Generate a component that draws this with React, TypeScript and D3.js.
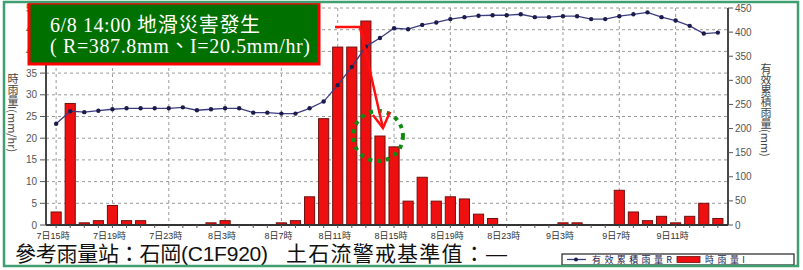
import React, { useEffect, useRef } from 'react';
import * as d3 from 'd3';

// hourly categories, 7日15時 .. 9日14時
const hours = [
  '7日15時', '7日16時', '7日17時', '7日18時', '7日19時', '7日20時', '7日21時', '7日22時', '7日23時',
  '8日0時', '8日1時', '8日2時', '8日3時', '8日4時', '8日5時', '8日6時', '8日7時', '8日8時',
  '8日9時', '8日10時', '8日11時', '8日12時', '8日13時', '8日14時', '8日15時', '8日16時', '8日17時',
  '8日18時', '8日19時', '8日20時', '8日21時', '8日22時', '8日23時',
  '9日0時', '9日1時', '9日2時', '9日3時', '9日4時', '9日5時', '9日6時', '9日7時', '9日8時',
  '9日9時', '9日10時', '9日11時', '9日12時', '9日13時', '9日14時',
];

const tickLabels = [
  '7日15時', '7日19時', '7日23時', '8日3時', '8日7時', '8日11時',
  '8日15時', '8日19時', '8日23時', '9日3時', '9日7時', '9日11時',
];

// 時雨量 I (mm/hr)
const hourlyRain = [
  3, 28, 0.5, 1, 4.5, 1, 1, 0, 0, 0, 0, 0.5,
  1, 0, 0, 0, 0.5, 1, 6.5, 24.5, 41, 41, 47, 20.5,
  18, 5.5, 11, 5.5, 6.5, 6, 2.5, 1.5, 0, 0, 0, 0,
  0.5, 0.5, 0, 0, 8, 3, 1, 2, 0.5, 2, 5, 1.5,
];

// 有效累積雨量 R (mm)
const effectiveRain = [
  210, 236, 234, 237, 240, 242, 242, 242, 242, 244, 238, 240,
  242, 242, 233, 233, 231, 231, 242, 256, 290, 328, 370, 387.8,
  408, 406, 415, 420, 427, 431, 434, 435, 435, 437, 431, 431,
  433, 433, 427, 427, 433, 437, 441, 431, 424, 413, 397, 399,
];

const leftTicks = [0, 5, 10, 15, 20, 25, 30, 35, 40, 45, 50];
const rightTicks = [0, 50, 100, 150, 200, 250, 300, 350, 400, 450];

const eventIndex = 23; // 8日14時

const sansFont = "'Liberation Sans', 'Noto Sans CJK TC', sans-serif";
const cjkFont = "'Noto Sans CJK TC', sans-serif";
const serifFont = "'Liberation Serif', 'Noto Sans CJK TC', serif";

const App = () => {
  const svgRef = useRef(null);

  useEffect(() => {
    const svg = d3.select(svgRef.current);
    svg.selectAll('*').remove();

    const W = 803;
    const H = 270;
    const left = 46, right = 728, top = 8, bottom = 225;

    svg.attr('width', W).attr('height', H);
    svg.append('rect').attr('width', W).attr('height', H).attr('fill', '#fff');

    const x = d3.scaleBand()
      .domain(hours)
      .range([left, right])
      .paddingInner(0.28)
      .paddingOuter(0.36);
    const bw = x.bandwidth();
    const cx = (h) => x(h) + bw / 2;

    const yL = d3.scaleLinear().domain([0, 50]).range([bottom, top]);
    const yR = d3.scaleLinear().domain([0, 450]).range([bottom, top]);

    // grid
    const grid = svg.append('g')
      .attr('stroke', '#9a9a9a')
      .attr('stroke-dasharray', '3,3')
      .attr('stroke-width', 1);
    leftTicks.filter(d => d > 0).forEach(d => {
      grid.append('line')
        .attr('x1', left).attr('x2', right)
        .attr('y1', yL(d)).attr('y2', yL(d));
    });
    tickLabels.forEach(t => {
      grid.append('line')
        .attr('x1', cx(t)).attr('x2', cx(t))
        .attr('y1', top).attr('y2', bottom);
    });

    // bars
    svg.append('g')
      .selectAll('rect')
      .data(hours.map((h, i) => ({ h, v: hourlyRain[i] })).filter(d => d.v > 0))
      .enter().append('rect')
      .attr('x', d => x(d.h))
      .attr('y', d => yL(d.v))
      .attr('width', bw)
      .attr('height', d => bottom - yL(d.v))
      .attr('fill', '#ee1010')
      .attr('stroke', '#701010')
      .attr('stroke-width', 1);

    // cumulative line
    const pts = hours.map((h, i) => ({ h, v: effectiveRain[i] }));
    const line = d3.line()
      .x(d => cx(d.h))
      .y(d => yR(d.v));
    svg.append('path')
      .datum(pts)
      .attr('d', line)
      .attr('fill', 'none')
      .attr('stroke', '#3c3c80')
      .attr('stroke-width', 1.3);
    svg.append('g')
      .selectAll('circle')
      .data(pts)
      .enter().append('circle')
      .attr('cx', d => cx(d.h))
      .attr('cy', d => yR(d.v))
      .attr('r', 2.2)
      .attr('fill', '#1c1c4c');

    // axes
    const axes = svg.append('g').attr('stroke', '#333').attr('stroke-width', 1.8);
    axes.append('line').attr('x1', left).attr('x2', left).attr('y1', top).attr('y2', bottom);
    axes.append('line').attr('x1', right).attr('x2', right).attr('y1', top).attr('y2', bottom);
    axes.append('line').attr('x1', left).attr('x2', right).attr('y1', bottom).attr('y2', bottom);

    const ticks = svg.append('g').attr('stroke', '#555').attr('stroke-width', 1);
    leftTicks.forEach(d => {
      ticks.append('line').attr('x1', left - 6).attr('x2', left).attr('y1', yL(d)).attr('y2', yL(d));
    });
    rightTicks.forEach(d => {
      ticks.append('line').attr('x1', right).attr('x2', right + 5).attr('y1', yR(d)).attr('y2', yR(d));
    });
    hours.forEach(h => {
      ticks.append('line').attr('x1', cx(h)).attr('x2', cx(h)).attr('y1', bottom).attr('y2', bottom + 3);
    });

    svg.append('g')
      .selectAll('text')
      .data(leftTicks)
      .enter().append('text')
      .attr('x', left - 9)
      .attr('y', d => yL(d) + 3.5)
      .attr('text-anchor', 'end')
      .style('font-family', sansFont)
      .style('font-size', '10px')
      .style('fill', '#555')
      .text(d => d);

    svg.append('g')
      .selectAll('text')
      .data(rightTicks)
      .enter().append('text')
      .attr('x', right + 7)
      .attr('y', d => yR(d) + 3.5)
      .style('font-family', sansFont)
      .style('font-size', '10px')
      .style('fill', '#555')
      .text(d => d);

    svg.append('g')
      .selectAll('text')
      .data(tickLabels)
      .enter().append('text')
      .attr('x', d => cx(d) - 3)
      .attr('y', 238.5)
      .attr('text-anchor', 'middle')
      .style('font-family', sansFont)
      .style('font-size', '9px')
      .style('fill', '#333')
      .text(d => d);

    // vertical axis titles: CJK upright, latin rotated
    const vTitle = (xPos, y0, label) => {
      svg.append('text')
        .attr('x', xPos)
        .attr('y', y0)
        .style('writing-mode', 'vertical-rl')
        .style('text-orientation', 'mixed')
        .style('font-family', cjkFont)
        .style('font-size', '11px')
        .style('fill', '#444')
        .text(label);
    };
    vTitle(13, 73, '時雨量I(mm/hr)');
    vTitle(766, 63, '有效累積雨量(mm)');

    // annotation: arrow + dotted circle around event bar
    const ex = cx(hours[eventIndex]);
    const ey = yL(hourlyRain[eventIndex]);
    svg.append('ellipse')
      .attr('cx', ex - 2)
      .attr('cy', ey)
      .attr('rx', 25)
      .attr('ry', 25)
      .attr('fill', 'none')
      .attr('stroke', '#118a11')
      .attr('stroke-width', 4)
      .attr('stroke-dasharray', '4,5');

    const tipX = ex + 3, tipY = ey - 8;
    const elbowX = ex - 20, elbowY = 27;
    svg.append('path')
      .attr('d', `M335,${elbowY}H${elbowX}L${tipX},${tipY}`)
      .attr('fill', 'none')
      .attr('stroke', '#ff1010')
      .attr('stroke-width', 2.5);
    svg.append('path')
      .attr('d', `M${tipX - 10},${tipY - 13}L${tipX},${tipY}L${tipX + 7},${tipY - 16}`)
      .attr('fill', 'none')
      .attr('stroke', '#ff1010')
      .attr('stroke-width', 2.5);

    // title box
    svg.append('rect')
      .attr('x', 29).attr('y', 3)
      .attr('width', 290).attr('height', 61)
      .attr('fill', '#007000')
      .attr('stroke', '#ff0000')
      .attr('stroke-width', 3);
    svg.append('text')
      .attr('x', 50).attr('y', 32)
      .attr('textLength', 210)
      .style('font-family', serifFont)
      .style('font-size', '20px')
      .style('fill', '#fff')
      .text('6/8 14:00 地滑災害發生');
    svg.append('text')
      .attr('x', 50).attr('y', 53)
      .attr('textLength', 260)
      .style('font-family', serifFont)
      .style('font-size', '20px')
      .style('fill', '#fff')
      .text('( R=387.8mm、I=20.5mm/hr)');

    // footer
    svg.append('text')
      .attr('x', 15).attr('y', 261)
      .attr('textLength', 253)
      .style('font-family', sansFont)
      .style('font-size', '21px')
      .style('fill', '#111')
      .text('參考雨量站：石岡(C1F920)');
    svg.append('text')
      .attr('x', 286).attr('y', 261)
      .attr('textLength', 221)
      .style('font-family', sansFont)
      .style('font-size', '21px')
      .style('fill', '#111')
      .text('土石流警戒基準值：—');

    // legend
    const lg = svg.append('g');
    lg.append('rect')
      .attr('x', 562).attr('y', 254)
      .attr('width', 232).attr('height', 11)
      .attr('fill', '#fff')
      .attr('stroke', '#222')
      .attr('stroke-width', 1.2);
    lg.append('line')
      .attr('x1', 567).attr('x2', 586).attr('y1', 259.5).attr('y2', 259.5)
      .attr('stroke', '#3c3c80').attr('stroke-width', 1.3);
    lg.append('circle').attr('cx', 576).attr('cy', 259.5).attr('r', 2).attr('fill', '#1c1c4c');
    lg.append('text')
      .attr('x', 592).attr('y', 263)
      .attr('textLength', 80)
      .style('font-family', cjkFont)
      .style('font-size', '9px')
      .style('fill', '#1a1a4a')
      .text('有效累積雨量R');
    lg.append('rect')
      .attr('x', 677).attr('y', 256.5)
      .attr('width', 23).attr('height', 6)
      .attr('fill', '#ee1010')
      .attr('stroke', '#701010')
      .attr('stroke-width', 0.8);
    lg.append('text')
      .attr('x', 705).attr('y', 263)
      .attr('textLength', 40)
      .style('font-family', cjkFont)
      .style('font-size', '9px')
      .style('fill', '#1a1a4a')
      .text('時雨量I');

    // outer frame
    svg.append('rect')
      .attr('x', 4).attr('y', 2)
      .attr('width', 794).attr('height', 264)
      .attr('fill', 'none')
      .attr('stroke', '#3f9f70')
      .attr('stroke-width', 2.5);
  }, []);

  return (
    <svg
      ref={svgRef}
      style={{ position: 'absolute', left: 0, top: 0, display: 'block' }}
    ></svg>
  );
};

export default App;
